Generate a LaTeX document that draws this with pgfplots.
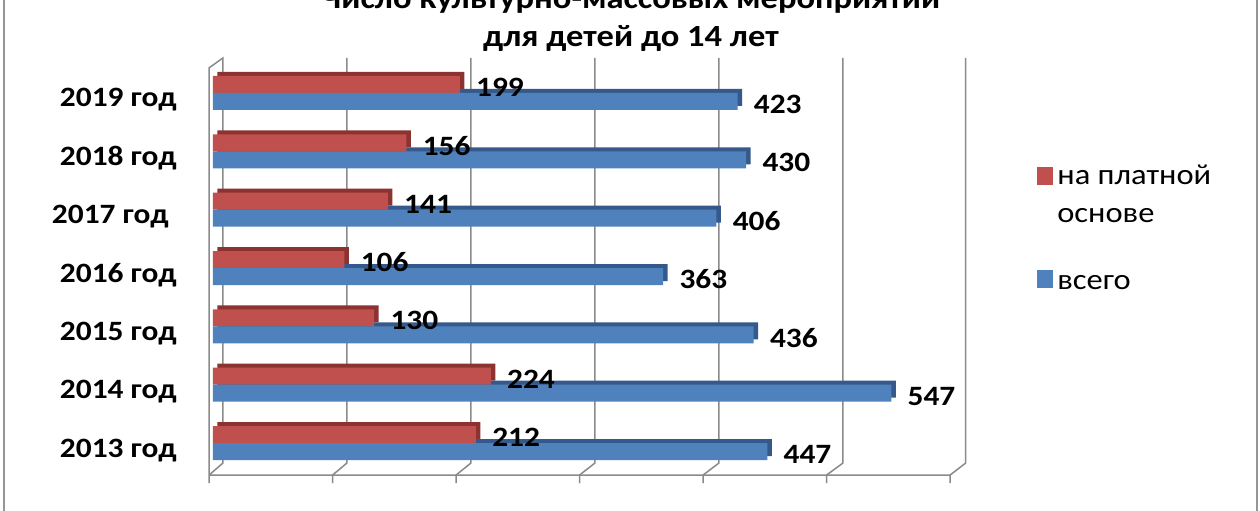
\documentclass[border=0pt]{standalone}
\usepackage{fontspec}
\setmainfont{Carlito}[FakeStretch=1.12]
\usepackage{pgfplots}
\pgfplotsset{compat=1.18}
\definecolor{redF}{HTML}{C0504D}
\definecolor{redD}{HTML}{8C3331}
\definecolor{bluF}{HTML}{4F81BD}
\definecolor{bluD}{HTML}{35598A}
\definecolor{gridc}{HTML}{8A8A8A}
\pgfplotsset{
  redleg/.style={legend image code/.code={\fill[##1] (0pt,5pt) rectangle (8pt,14pt);}},
  bluleg/.style={legend image code/.code={\fill[##1] (0pt,-2pt) rectangle (8pt,7pt);}},
}
\begin{document}
\begin{tikzpicture}
\useasboundingbox (0pt,0pt) rectangle (630pt,255pt);
\clip (0pt,0pt) rectangle (630pt,255pt);
\draw[gridc!90, line width=1.1pt] (2pt,-10pt) rectangle (628.5pt,270pt);
\node[font=\bfseries\fontsize{15.4}{18}\selectfont, anchor=base, inner sep=0pt] at (315.5pt,250.5pt) {Число культурно-массовых мероприятий};
\node[font=\bfseries\fontsize{15.4}{18}\selectfont, anchor=base, inner sep=0pt] at (315.5pt,231.5pt) {для детей до 14 лет};
\begin{axis}[
  at={(106.5pt,18.9pt)}, anchor=south west, scale only axis,
  width=372pt, height=204.2pt,
  xmin=0, xmax=600, ymin=-0.5, ymax=6.5, clip=false,
  axis line style={draw=none}, xtick=\empty,
  ytick={0,1,2,3,4,5,6},
  yticklabels={2013 год,2014 год,2015 год,2016 год,{2017 год\hspace*{4pt}},2018 год,2019 год},
  major tick length=0pt,
  /pgf/number format/assume math mode=true,
  yticklabel style={font=\bfseries\fontsize{14}{17}\selectfont, anchor=base east, inner sep=0pt, xshift=-18pt, yshift=-7pt},
  xbar, bar width=8.5pt,
  point meta=x,
  legend style={draw=none, fill=none, at={(1.1075,0.764)}, anchor=north west, inner sep=0pt,
    font=\fontsize{14.5}{19}\selectfont, cells={anchor=west, align=left}, row sep=20.5pt},
]
% 3D frame
\draw[gridc, line width=0.75pt]
  (axis cs:-3.2,-0.686) -- (axis cs:-3.2,6.43) -- (axis cs:8,6.60) -- (axis cs:8,-0.343) -- (axis cs:-3.2,-0.549)
  (axis cs:-3.2,-0.549) -- (axis cs:594.4,-0.549);
\draw[gridc, line width=0.75pt]
  (axis cs:108,6.60) -- (axis cs:108,-0.343) -- (axis cs:96.4,-0.549) -- (axis cs:96.4,-0.686)
  (axis cs:208,6.60) -- (axis cs:208,-0.343) -- (axis cs:196,-0.549) -- (axis cs:196,-0.686)
  (axis cs:308,6.60) -- (axis cs:308,-0.343) -- (axis cs:295.6,-0.549) -- (axis cs:295.6,-0.686)
  (axis cs:408,6.60) -- (axis cs:408,-0.343) -- (axis cs:395.2,-0.549) -- (axis cs:395.2,-0.686)
  (axis cs:508,6.60) -- (axis cs:508,-0.343) -- (axis cs:494.8,-0.549) -- (axis cs:494.8,-0.686)
  (axis cs:607,6.60) -- (axis cs:607,-0.343) -- (axis cs:594.4,-0.549) -- (axis cs:594.4,-0.686);
% depth (top and side faces)
\addplot[fill=redD, draw=none, bar shift=4.25pt, xshift=2.25pt, yshift=2pt, forget plot] table[x=v,y=y] {
y v
0 212
1 224
2 130
3 106
4 141
5 156
6 199
};
\addplot[fill=bluD, draw=none, bar shift=-4.25pt, xshift=2.25pt, yshift=2pt, forget plot] table[x=v,y=y] {
y v
0 447
1 547
2 436
3 363
4 406
5 430
6 423
};
% front faces
\addplot[fill=redF, draw=none, bar shift=4.25pt, redleg,
  nodes near coords, nodes near coords style={font=\bfseries\fontsize{14}{17}\selectfont, anchor=west, inner sep=0pt, xshift=8pt, yshift=-1.5pt, text=black}] table[x=v,y=y] {
y v
0 212
1 224
2 130
3 106
4 141
5 156
6 199
};
\addlegendentry{на платной\\основе}
\addplot[fill=bluF, draw=none, bar shift=-4.25pt, bluleg,
  nodes near coords, nodes near coords style={font=\bfseries\fontsize{14}{17}\selectfont, anchor=west, inner sep=0pt, xshift=8pt, yshift=-1.5pt, text=black}] table[x=v,y=y] {
y v
0 447
1 547
2 436
3 363
4 406
5 430
6 423
};
\addlegendentry{всего}
\end{axis}
\end{tikzpicture}
\end{document}
